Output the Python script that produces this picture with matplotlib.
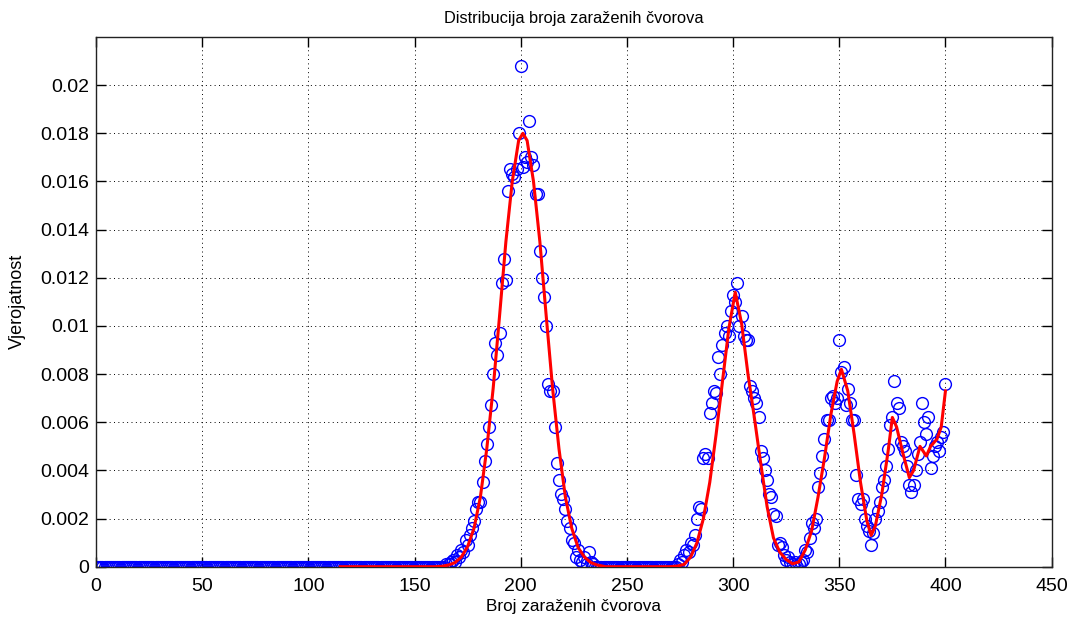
import numpy as np
import matplotlib
matplotlib.use("Agg")
import matplotlib.pyplot as plt

plt.rcParams['font.family'] = ['Liberation Sans', 'DejaVu Sans']

# measured probabilities, one per number of infected nodes (0..400)
zero_part = [0.0] * 165  # x = 0..164
peak1 = [0.0001, 0.0001, 0.0002, 0.0003, 0.0002, 0.0005, 0.0004, 0.0007, 0.0006, 0.0011,   # 165-174
         0.0009, 0.0013, 0.0016, 0.0019, 0.0024, 0.0027, 0.0027, 0.0035, 0.0044, 0.0051,   # 175-184
         0.0058, 0.0067, 0.0080, 0.0093, 0.0088, 0.0097, 0.0118, 0.0128, 0.0119, 0.0156,   # 185-194
         0.0165, 0.0163, 0.0162, 0.0165, 0.0180, 0.0208, 0.0166, 0.0170, 0.0168, 0.0185,   # 195-204
         0.0170, 0.0167, 0.0155, 0.0155, 0.0131, 0.0120, 0.0112, 0.0100, 0.0076, 0.0073,   # 205-214
         0.0073, 0.0058, 0.0043, 0.0036, 0.0030, 0.0028, 0.0024, 0.0019, 0.0016, 0.0011,   # 215-224
         0.0010, 0.0004, 0.0007, 0.0003, 0.0002, 0.0004, 0.0001, 0.0006, 0.0002, 0.0001,   # 225-234
         0.0]                                                                             # 235
gap = [0.0] * 37  # x = 236..272
peak2 = [0.0, 0.0001, 0.0003, 0.0002, 0.0005, 0.0007, 0.0006, 0.0010, 0.0009, 0.0013,     # 273-282
         0.0020, 0.0025, 0.0024, 0.0045, 0.0047, 0.0045, 0.0064, 0.0068, 0.0073, 0.0072,   # 283-292
         0.0087, 0.0080, 0.0092, 0.0097, 0.0100, 0.0096, 0.0106, 0.0113, 0.0110, 0.0118,   # 293-302
         0.0100, 0.0104, 0.0096, 0.0094, 0.0094, 0.0075, 0.0073, 0.0070, 0.0068, 0.0062,   # 303-312
         0.0048, 0.0045, 0.0040, 0.0036, 0.0030, 0.0029, 0.0022, 0.0021, 0.0009, 0.0010,   # 313-322
         0.0008, 0.0005, 0.0003, 0.0004, 0.0002, 0.0001, 0.0002, 0.0]                      # 323-330
tail = [0.0001, 0.0002, 0.0003, 0.0007, 0.0006, 0.0012, 0.0018, 0.0016, 0.0020, 0.0033,   # 331-340
        0.0039, 0.0046, 0.0053, 0.0061, 0.0061, 0.0070, 0.0071, 0.0068, 0.0070, 0.0094,    # 341-350
        0.0081, 0.0083, 0.0067, 0.0074, 0.0068, 0.0061, 0.0061, 0.0038, 0.0028, 0.0026,    # 351-360
        0.0028, 0.0020, 0.0017, 0.0015, 0.0009, 0.0014, 0.0020, 0.0023, 0.0027, 0.0033,    # 361-370
        0.0036, 0.0042, 0.0049, 0.0059, 0.0062, 0.0077, 0.0068, 0.0066, 0.0052, 0.0050,    # 371-380
        0.0048, 0.0042, 0.0034, 0.0031, 0.0034, 0.0040, 0.0047, 0.0052, 0.0068, 0.0060,    # 381-390
        0.0055, 0.0062, 0.0041, 0.0046, 0.0050, 0.0052, 0.0048, 0.0054, 0.0056, 0.0076]    # 391-400
prob = zero_part + peak1 + gap + peak2 + tail
nodes = np.arange(len(prob))

# smoothed curve (red)
smooth_x = [115, 160, 163, 166, 169, 172, 175, 178, 181, 184, 187, 190, 193, 196, 199, 201,
            203, 206, 209, 212, 215, 218, 221, 224, 227, 230, 233, 236, 240, 270, 274, 277,
            280, 283, 286, 289, 292, 295, 298, 301, 304, 307, 310, 313, 316, 319, 322, 325,
            328, 331, 334, 337, 340, 343, 346, 349, 351, 354, 357, 360, 363, 365, 367, 370,
            373, 375, 377, 380, 383, 385, 388, 391, 393, 396, 398, 400]
smooth_y = [0.0, 0.0, 0.00002, 0.00007, 0.00017, 0.0004, 0.00084, 0.0016, 0.0029, 0.0049,
            0.0074, 0.0104, 0.0135, 0.0160, 0.0177, 0.0180,
            0.0177, 0.0160, 0.0135, 0.0104, 0.0074, 0.0049, 0.0029, 0.0016, 0.0008, 0.0004,
            0.00017, 0.00007, 0.0, 0.0, 0.00003, 0.0001,
            0.0004, 0.0010, 0.0020, 0.0035, 0.0055, 0.0077, 0.0099, 0.0114, 0.0101, 0.0080,
            0.0062, 0.0043, 0.0025, 0.0012, 0.0006, 0.0003,
            0.00012, 0.0002, 0.0007, 0.0015, 0.0029, 0.0045, 0.0063, 0.0077, 0.0082, 0.0073,
            0.0055, 0.0035, 0.0019, 0.0013, 0.0017, 0.0030,
            0.0048, 0.0062, 0.0058, 0.0047, 0.0037, 0.0040, 0.0050, 0.0046, 0.0050, 0.0053,
            0.0058, 0.0073]

fig = plt.figure(figsize=(10.72, 6.21), dpi=100)
ax = fig.add_axes([0.0896, 0.0874, 0.8914, 0.853])

ax.plot(nodes, prob, 'o', markerfacecolor='none', markeredgecolor='#0000ff',
        markersize=8.5, markeredgewidth=1.0, zorder=2)
ax.plot(smooth_x, smooth_y, '-', color='#ff0000', linewidth=2.2, zorder=3)

ax.set_xlim(0, 450)
ax.set_ylim(0, 0.022)
ax.set_xticks(np.arange(0, 451, 50))
ax.set_yticks(np.arange(0, 0.0201, 0.002))
ax.set_yticklabels(['0', '0.002', '0.004', '0.006', '0.008', '0.01', '0.012',
                    '0.014', '0.016', '0.018', '0.02'])

ax.grid(True, color='black', linestyle=(0, (1, 3.5)), linewidth=0.7)
ax.tick_params(direction='in', length=7, width=1, top=True, right=True, labelsize=14)
ax.tick_params(axis='x', pad=8)
ax.tick_params(axis='y', pad=5)
for s in ax.spines.values():
    s.set_linewidth(1.0)
    s.set_color('#222222')

ax.set_title('Distribucija broja zaraženih čvorova', fontsize=11.8, pad=10)
ax.set_xlabel('Broj zaraženih čvorova', fontsize=12.3, labelpad=3)
ax.set_ylabel('Vjerojatnost', fontsize=13, labelpad=10)

fig.savefig('out.png', dpi=100)
